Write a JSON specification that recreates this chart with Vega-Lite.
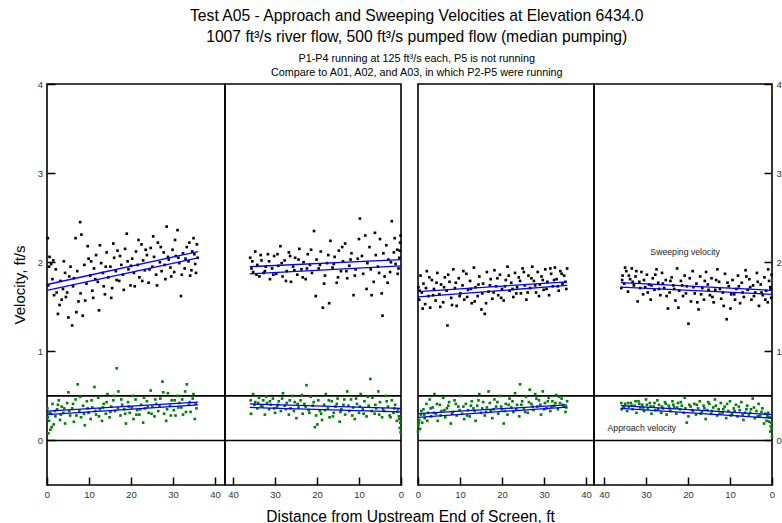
{
"$schema": "https://vega.github.io/schema/vega-lite/v6.json",
"padding": {"left": 11, "top": 7, "right": 0, "bottom": 0},
"background": "white",
"title": {
"text": ["Test A05 - Approach and Sweeping Velocities at Elevation 6434.0", "1007 ft³/s river flow, 500 ft³/s pumped flow (median pumping)"],
"subtitle": ["P1-P4 running at 125 ft³/s each, P5 is not running", "Compare to A01, A02, and A03, in which P2-P5 were running"],
"font": "Liberation Sans", "subtitleFont": "Liberation Sans",
"fontSize": 15.7, "lineHeight": 21, "fontWeight": "normal", "color": "black",
"subtitleFontSize": 10.8, "subtitleLineHeight": 14, "subtitleColor": "black", "subtitlePadding": 8,
"anchor": "middle", "frame": "bounds", "offset": -1, "dx": 20
},
"config": {
"font": "Liberation Sans",
"view": {"stroke": "black", "strokeWidth": 1.6},
"axis": {"labelFont": "Liberation Sans", "titleFont": "Liberation Sans", "labelColor": "#333", "titleColor": "black", "titleFontWeight": "normal", "tickColor": "black", "tickWidth": 1.5, "domain": false, "grid": false, "labelFlush": false}
},
"datasets": {
"pts": [
{"p":1,"s":"S","x":0.2,"v":2.27},{"p":1,"s":"S","x":0.3,"v":1.74},{"p":1,"s":"S","x":0.6,"v":2.06},{"p":1,"s":"S","x":1.0,"v":1.98},{"p":1,"s":"S","x":1.3,"v":1.81},{"p":1,"s":"S","x":1.7,"v":1.63},{"p":1,"s":"S","x":2.1,"v":1.92},{"p":1,"s":"S","x":2.6,"v":1.42},{"p":1,"s":"S","x":3.0,"v":1.52},{"p":1,"s":"S","x":3.2,"v":1.79},{"p":1,"s":"S","x":3.8,"v":1.70},{"p":1,"s":"S","x":4.3,"v":1.88},{"p":1,"s":"S","x":4.8,"v":1.66},{"p":1,"s":"S","x":5.1,"v":1.38},{"p":1,"s":"S","x":5.6,"v":1.95},{"p":1,"s":"S","x":6.0,"v":1.29},{"p":1,"s":"S","x":6.4,"v":1.82},{"p":1,"s":"S","x":7.0,"v":1.44},{"p":1,"s":"S","x":7.5,"v":1.56},{"p":1,"s":"S","x":7.9,"v":2.45},{"p":1,"s":"S","x":8.2,"v":2.31},{"p":1,"s":"S","x":8.5,"v":1.40},{"p":1,"s":"S","x":8.9,"v":1.97},{"p":1,"s":"S","x":9.4,"v":1.76},{"p":1,"s":"S","x":9.9,"v":2.04},{"p":1,"s":"S","x":10.3,"v":1.85},{"p":1,"s":"S","x":10.8,"v":1.68},{"p":1,"s":"S","x":11.2,"v":1.93},{"p":1,"s":"S","x":11.7,"v":2.08},{"p":1,"s":"S","x":12.1,"v":1.78},{"p":1,"s":"S","x":12.4,"v":1.46},{"p":1,"s":"S","x":12.9,"v":1.99},{"p":1,"s":"S","x":13.3,"v":1.88},{"p":1,"s":"S","x":13.8,"v":1.64},{"p":1,"s":"S","x":14.2,"v":2.11},{"p":1,"s":"S","x":14.6,"v":1.83},{"p":1,"s":"S","x":15.1,"v":1.95},{"p":1,"s":"S","x":15.5,"v":1.71},{"p":1,"s":"S","x":16.0,"v":2.05},{"p":1,"s":"S","x":16.4,"v":1.90},{"p":1,"s":"S","x":16.8,"v":2.13},{"p":1,"s":"S","x":17.2,"v":1.79},{"p":1,"s":"S","x":17.7,"v":1.97},{"p":1,"s":"S","x":18.1,"v":1.86},{"p":1,"s":"S","x":18.6,"v":2.15},{"p":1,"s":"S","x":19.0,"v":2.32},{"p":1,"s":"S","x":19.4,"v":1.92},{"p":1,"s":"S","x":19.9,"v":1.74},{"p":1,"s":"S","x":20.3,"v":2.04},{"p":1,"s":"S","x":20.7,"v":1.88},{"p":1,"s":"S","x":21.2,"v":2.12},{"p":1,"s":"S","x":21.6,"v":1.97},{"p":1,"s":"S","x":22.0,"v":1.83},{"p":1,"s":"S","x":22.5,"v":2.20},{"p":1,"s":"S","x":22.9,"v":2.02},{"p":1,"s":"S","x":23.3,"v":1.91},{"p":1,"s":"S","x":23.8,"v":2.08},{"p":1,"s":"S","x":24.2,"v":1.77},{"p":1,"s":"S","x":24.7,"v":2.16},{"p":1,"s":"S","x":25.1,"v":1.95},{"p":1,"s":"S","x":25.5,"v":2.06},{"p":1,"s":"S","x":26.0,"v":1.86},{"p":1,"s":"S","x":26.4,"v":2.22},{"p":1,"s":"S","x":26.9,"v":2.00},{"p":1,"s":"S","x":27.3,"v":1.90},{"p":1,"s":"S","x":27.8,"v":2.11},{"p":1,"s":"S","x":28.2,"v":1.81},{"p":1,"s":"S","x":28.5,"v":2.40},{"p":1,"s":"S","x":29.0,"v":2.03},{"p":1,"s":"S","x":29.4,"v":1.94},{"p":1,"s":"S","x":29.9,"v":2.14},{"p":1,"s":"S","x":30.3,"v":1.89},{"p":1,"s":"S","x":30.7,"v":2.07},{"p":1,"s":"S","x":31.1,"v":2.36},{"p":1,"s":"S","x":31.5,"v":1.99},{"p":1,"s":"S","x":31.9,"v":1.62},{"p":1,"s":"S","x":32.4,"v":2.10},{"p":1,"s":"S","x":32.8,"v":1.93},{"p":1,"s":"S","x":33.3,"v":2.17},{"p":1,"s":"S","x":33.7,"v":2.01},{"p":1,"s":"S","x":34.1,"v":1.85},{"p":1,"s":"S","x":34.6,"v":2.12},{"p":1,"s":"S","x":34.9,"v":2.27},{"p":1,"s":"S","x":35.3,"v":1.98},{"p":1,"s":"S","x":35.7,"v":2.20},{"p":1,"s":"S","x":35.9,"v":2.05},
{"p":1,"s":"S","x":0.5,"v":1.95},{"p":1,"s":"S","x":1.5,"v":2.02},{"p":1,"s":"S","x":2.3,"v":1.66},{"p":1,"s":"S","x":3.5,"v":1.58},{"p":1,"s":"S","x":4.0,"v":2.01},{"p":1,"s":"S","x":4.5,"v":1.61},{"p":1,"s":"S","x":5.3,"v":1.84},{"p":1,"s":"S","x":6.2,"v":1.73},{"p":1,"s":"S","x":6.8,"v":2.27},{"p":1,"s":"S","x":7.2,"v":1.90},{"p":1,"s":"S","x":8.0,"v":1.65},{"p":1,"s":"S","x":9.1,"v":1.57},{"p":1,"s":"S","x":9.7,"v":2.18},{"p":1,"s":"S","x":10.5,"v":2.01},{"p":1,"s":"S","x":11.0,"v":1.60},{"p":1,"s":"S","x":11.5,"v":1.81},{"p":1,"s":"S","x":12.6,"v":2.19},{"p":1,"s":"S","x":13.5,"v":1.73},{"p":1,"s":"S","x":14.0,"v":1.95},{"p":1,"s":"S","x":15.3,"v":1.60},{"p":1,"s":"S","x":15.8,"v":2.21},{"p":1,"s":"S","x":16.6,"v":1.80},{"p":1,"s":"S","x":17.4,"v":2.07},{"p":1,"s":"S","x":18.3,"v":1.69},{"p":1,"s":"S","x":19.2,"v":2.01},{"p":1,"s":"S","x":20.0,"v":1.96},{"p":1,"s":"S","x":20.9,"v":1.73},{"p":1,"s":"S","x":21.8,"v":2.25},{"p":1,"s":"S","x":22.7,"v":1.79},{"p":1,"s":"S","x":23.5,"v":2.14},{"p":1,"s":"S","x":24.4,"v":1.92},{"p":1,"s":"S","x":25.3,"v":2.29},{"p":1,"s":"S","x":26.2,"v":1.74},{"p":1,"s":"S","x":27.1,"v":2.17},{"p":1,"s":"S","x":28.0,"v":1.97},{"p":1,"s":"S","x":28.8,"v":2.06},{"p":1,"s":"S","x":29.6,"v":1.84},{"p":1,"s":"S","x":30.5,"v":2.25},{"p":1,"s":"S","x":31.3,"v":2.05},{"p":1,"s":"S","x":32.1,"v":1.86},{"p":1,"s":"S","x":33.0,"v":2.04},{"p":1,"s":"S","x":33.9,"v":2.22},{"p":1,"s":"S","x":34.4,"v":1.91},{"p":1,"s":"S","x":35.1,"v":2.09},{"p":1,"s":"S","x":35.5,"v":1.88},
{"p":1,"s":"A","x":0.1,"v":0.36},{"p":1,"s":"A","x":0.3,"v":0.08},{"p":1,"s":"A","x":0.5,"v":0.22},{"p":1,"s":"A","x":0.8,"v":0.12},{"p":1,"s":"A","x":1.0,"v":0.30},{"p":1,"s":"A","x":1.3,"v":0.41},{"p":1,"s":"A","x":1.6,"v":0.18},{"p":1,"s":"A","x":2.0,"v":0.27},{"p":1,"s":"A","x":2.4,"v":0.35},{"p":1,"s":"A","x":2.8,"v":0.45},{"p":1,"s":"A","x":3.1,"v":0.23},{"p":1,"s":"A","x":3.5,"v":0.38},{"p":1,"s":"A","x":3.9,"v":0.31},{"p":1,"s":"A","x":4.3,"v":0.19},{"p":1,"s":"A","x":4.8,"v":0.42},{"p":1,"s":"A","x":5.1,"v":0.54},{"p":1,"s":"A","x":5.5,"v":0.28},{"p":1,"s":"A","x":6.0,"v":0.36},{"p":1,"s":"A","x":6.4,"v":0.21},{"p":1,"s":"A","x":6.8,"v":0.46},{"p":1,"s":"A","x":7.3,"v":0.63},{"p":1,"s":"A","x":7.7,"v":0.33},{"p":1,"s":"A","x":8.1,"v":0.26},{"p":1,"s":"A","x":8.6,"v":0.39},{"p":1,"s":"A","x":9.0,"v":0.17},{"p":1,"s":"A","x":9.5,"v":0.44},{"p":1,"s":"A","x":9.9,"v":0.31},{"p":1,"s":"A","x":10.4,"v":0.24},{"p":1,"s":"A","x":10.8,"v":0.37},{"p":1,"s":"A","x":11.3,"v":0.60},{"p":1,"s":"A","x":11.7,"v":0.29},{"p":1,"s":"A","x":12.2,"v":0.48},{"p":1,"s":"A","x":12.6,"v":0.35},{"p":1,"s":"A","x":13.1,"v":0.22},{"p":1,"s":"A","x":13.5,"v":0.41},{"p":1,"s":"A","x":14.0,"v":0.30},{"p":1,"s":"A","x":14.4,"v":0.52},{"p":1,"s":"A","x":14.9,"v":0.26},{"p":1,"s":"A","x":15.3,"v":0.38},{"p":1,"s":"A","x":15.8,"v":0.45},{"p":1,"s":"A","x":16.2,"v":0.33},{"p":1,"s":"A","x":16.6,"v":0.81},{"p":1,"s":"A","x":17.0,"v":0.55},{"p":1,"s":"A","x":17.5,"v":0.28},{"p":1,"s":"A","x":17.9,"v":0.40},{"p":1,"s":"A","x":18.4,"v":0.35},{"p":1,"s":"A","x":18.8,"v":0.19},{"p":1,"s":"A","x":19.3,"v":0.43},{"p":1,"s":"A","x":19.7,"v":0.31},{"p":1,"s":"A","x":20.2,"v":0.37},{"p":1,"s":"A","x":20.6,"v":0.24},{"p":1,"s":"A","x":21.1,"v":0.46},{"p":1,"s":"A","x":21.5,"v":0.34},{"p":1,"s":"A","x":22.0,"v":0.29},{"p":1,"s":"A","x":22.4,"v":0.40},{"p":1,"s":"A","x":22.9,"v":0.20},{"p":1,"s":"A","x":23.3,"v":0.36},{"p":1,"s":"A","x":23.8,"v":0.44},{"p":1,"s":"A","x":24.2,"v":0.31},{"p":1,"s":"A","x":24.7,"v":0.56},{"p":1,"s":"A","x":25.1,"v":0.38},{"p":1,"s":"A","x":25.6,"v":0.27},{"p":1,"s":"A","x":26.0,"v":0.41},{"p":1,"s":"A","x":26.5,"v":0.33},{"p":1,"s":"A","x":27.0,"v":0.47},{"p":1,"s":"A","x":27.5,"v":0.66},{"p":1,"s":"A","x":27.9,"v":0.30},{"p":1,"s":"A","x":28.4,"v":0.22},{"p":1,"s":"A","x":28.8,"v":0.53},{"p":1,"s":"A","x":29.3,"v":0.39},{"p":1,"s":"A","x":29.7,"v":0.45},{"p":1,"s":"A","x":30.2,"v":0.34},{"p":1,"s":"A","x":30.6,"v":0.28},{"p":1,"s":"A","x":31.1,"v":0.50},{"p":1,"s":"A","x":31.5,"v":0.42},{"p":1,"s":"A","x":32.0,"v":0.37},{"p":1,"s":"A","x":32.4,"v":0.29},{"p":1,"s":"A","x":32.9,"v":0.55},{"p":1,"s":"A","x":33.3,"v":0.63},{"p":1,"s":"A","x":33.8,"v":0.40},{"p":1,"s":"A","x":34.2,"v":0.32},{"p":1,"s":"A","x":34.7,"v":0.47},{"p":1,"s":"A","x":35.2,"v":0.24},{"p":1,"s":"A","x":35.6,"v":0.36},
{"p":1,"s":"A","x":0.2,"v":0.26},{"p":1,"s":"A","x":0.6,"v":0.31},{"p":1,"s":"A","x":1.1,"v":0.15},{"p":1,"s":"A","x":1.9,"v":0.33},{"p":1,"s":"A","x":2.6,"v":0.40},{"p":1,"s":"A","x":3.3,"v":0.29},{"p":1,"s":"A","x":4.1,"v":0.36},{"p":1,"s":"A","x":5.3,"v":0.33},{"p":1,"s":"A","x":6.2,"v":0.41},{"p":1,"s":"A","x":7.0,"v":0.28},{"p":1,"s":"A","x":7.9,"v":0.49},{"p":1,"s":"A","x":8.8,"v":0.30},{"p":1,"s":"A","x":9.7,"v":0.36},{"p":1,"s":"A","x":10.6,"v":0.45},{"p":1,"s":"A","x":11.5,"v":0.33},{"p":1,"s":"A","x":12.4,"v":0.27},{"p":1,"s":"A","x":13.3,"v":0.37},{"p":1,"s":"A","x":14.2,"v":0.43},{"p":1,"s":"A","x":15.1,"v":0.32},{"p":1,"s":"A","x":16.0,"v":0.50},{"p":1,"s":"A","x":16.9,"v":0.36},{"p":1,"s":"A","x":17.7,"v":0.46},{"p":1,"s":"A","x":18.6,"v":0.30},{"p":1,"s":"A","x":19.5,"v":0.38},{"p":1,"s":"A","x":20.4,"v":0.50},{"p":1,"s":"A","x":21.3,"v":0.29},{"p":1,"s":"A","x":22.2,"v":0.35},{"p":1,"s":"A","x":23.1,"v":0.48},{"p":1,"s":"A","x":24.0,"v":0.38},{"p":1,"s":"A","x":24.9,"v":0.30},{"p":1,"s":"A","x":25.8,"v":0.46},{"p":1,"s":"A","x":26.8,"v":0.39},{"p":1,"s":"A","x":27.7,"v":0.54},{"p":1,"s":"A","x":28.6,"v":0.35},{"p":1,"s":"A","x":29.5,"v":0.28},{"p":1,"s":"A","x":30.4,"v":0.45},{"p":1,"s":"A","x":31.3,"v":0.37},{"p":1,"s":"A","x":32.2,"v":0.46},{"p":1,"s":"A","x":33.1,"v":0.32},{"p":1,"s":"A","x":34.0,"v":0.43},{"p":1,"s":"A","x":34.9,"v":0.52},{"p":1,"s":"A","x":35.4,"v":0.41},
{"p":2,"s":"S","x":0.1,"v":2.30},{"p":2,"s":"S","x":0.2,"v":2.22},{"p":2,"s":"S","x":0.4,"v":2.05},{"p":2,"s":"S","x":0.6,"v":1.93},{"p":2,"s":"S","x":0.9,"v":2.14},{"p":2,"s":"S","x":1.3,"v":1.98},{"p":2,"s":"S","x":1.7,"v":2.11},{"p":2,"s":"S","x":2.2,"v":2.46},{"p":2,"s":"S","x":2.6,"v":1.89},{"p":2,"s":"S","x":3.0,"v":2.03},{"p":2,"s":"S","x":3.5,"v":2.19},{"p":2,"s":"S","x":3.9,"v":1.84},{"p":2,"s":"S","x":4.4,"v":1.40},{"p":2,"s":"S","x":4.6,"v":1.65},{"p":2,"s":"S","x":5.0,"v":2.26},{"p":2,"s":"S","x":5.5,"v":1.95},{"p":2,"s":"S","x":6.0,"v":2.08},{"p":2,"s":"S","x":6.5,"v":1.78},{"p":2,"s":"S","x":7.0,"v":1.63},{"p":2,"s":"S","x":7.5,"v":2.17},{"p":2,"s":"S","x":8.0,"v":1.99},{"p":2,"s":"S","x":8.5,"v":2.30},{"p":2,"s":"S","x":9.0,"v":1.87},{"p":2,"s":"S","x":9.8,"v":2.49},{"p":2,"s":"S","x":10.3,"v":2.04},{"p":2,"s":"S","x":10.8,"v":1.92},{"p":2,"s":"S","x":11.3,"v":1.63},{"p":2,"s":"S","x":11.8,"v":2.10},{"p":2,"s":"S","x":12.3,"v":1.96},{"p":2,"s":"S","x":12.8,"v":1.82},{"p":2,"s":"S","x":13.3,"v":2.21},{"p":2,"s":"S","x":13.8,"v":2.01},{"p":2,"s":"S","x":14.3,"v":1.90},{"p":2,"s":"S","x":14.8,"v":2.13},{"p":2,"s":"S","x":15.3,"v":1.77},{"p":2,"s":"S","x":15.8,"v":2.06},{"p":2,"s":"S","x":16.3,"v":1.94},{"p":2,"s":"S","x":16.8,"v":2.24},{"p":2,"s":"S","x":17.1,"v":1.54},{"p":2,"s":"S","x":17.6,"v":1.99},{"p":2,"s":"S","x":18.1,"v":1.85},{"p":2,"s":"S","x":18.6,"v":1.49},{"p":2,"s":"S","x":19.1,"v":2.12},{"p":2,"s":"S","x":19.6,"v":1.93},{"p":2,"s":"S","x":20.1,"v":2.03},{"p":2,"s":"S","x":20.7,"v":2.35},{"p":2,"s":"S","x":21.2,"v":1.88},{"p":2,"s":"S","x":21.7,"v":1.97},{"p":2,"s":"S","x":22.2,"v":2.09},{"p":2,"s":"S","x":22.7,"v":1.81},{"p":2,"s":"S","x":23.2,"v":2.00},{"p":2,"s":"S","x":23.7,"v":1.92},{"p":2,"s":"S","x":24.2,"v":2.15},{"p":2,"s":"S","x":24.7,"v":1.86},{"p":2,"s":"S","x":25.2,"v":2.05},{"p":2,"s":"S","x":25.7,"v":1.95},{"p":2,"s":"S","x":26.2,"v":1.78},{"p":2,"s":"S","x":26.7,"v":2.11},{"p":2,"s":"S","x":27.2,"v":1.90},{"p":2,"s":"S","x":27.7,"v":2.02},{"p":2,"s":"S","x":28.2,"v":1.84},{"p":2,"s":"S","x":28.7,"v":2.18},{"p":2,"s":"S","x":29.2,"v":1.96},{"p":2,"s":"S","x":29.7,"v":1.87},{"p":2,"s":"S","x":30.2,"v":2.07},{"p":2,"s":"S","x":30.7,"v":1.93},{"p":2,"s":"S","x":31.2,"v":1.81},{"p":2,"s":"S","x":31.7,"v":2.09},{"p":2,"s":"S","x":32.2,"v":1.95},{"p":2,"s":"S","x":32.7,"v":1.88},{"p":2,"s":"S","x":33.2,"v":2.02},{"p":2,"s":"S","x":33.7,"v":1.84},{"p":2,"s":"S","x":34.2,"v":1.97},{"p":2,"s":"S","x":34.7,"v":2.12},{"p":2,"s":"S","x":35.2,"v":1.89},{"p":2,"s":"S","x":35.6,"v":1.93},{"p":2,"s":"S","x":35.9,"v":2.05},
{"p":2,"s":"S","x":0.3,"v":2.13},{"p":2,"s":"S","x":0.8,"v":1.87},{"p":2,"s":"S","x":1.5,"v":2.27},{"p":2,"s":"S","x":2.4,"v":2.00},{"p":2,"s":"S","x":3.2,"v":1.77},{"p":2,"s":"S","x":4.2,"v":2.10},{"p":2,"s":"S","x":5.2,"v":1.88},{"p":2,"s":"S","x":6.2,"v":2.33},{"p":2,"s":"S","x":7.2,"v":1.92},{"p":2,"s":"S","x":8.2,"v":1.70},{"p":2,"s":"S","x":9.3,"v":2.07},{"p":2,"s":"S","x":10.0,"v":2.26},{"p":2,"s":"S","x":11.0,"v":1.85},{"p":2,"s":"S","x":12.0,"v":2.03},{"p":2,"s":"S","x":13.0,"v":1.90},{"p":2,"s":"S","x":14.0,"v":2.17},{"p":2,"s":"S","x":15.0,"v":1.83},{"p":2,"s":"S","x":16.0,"v":1.98},{"p":2,"s":"S","x":17.3,"v":2.08},{"p":2,"s":"S","x":18.3,"v":1.76},{"p":2,"s":"S","x":19.3,"v":1.97},{"p":2,"s":"S","x":20.3,"v":1.62},{"p":2,"s":"S","x":21.4,"v":2.14},{"p":2,"s":"S","x":22.4,"v":1.93},{"p":2,"s":"S","x":23.4,"v":1.83},{"p":2,"s":"S","x":24.4,"v":2.03},{"p":2,"s":"S","x":25.4,"v":1.91},{"p":2,"s":"S","x":26.4,"v":2.07},{"p":2,"s":"S","x":27.4,"v":1.79},{"p":2,"s":"S","x":28.4,"v":1.99},{"p":2,"s":"S","x":29.4,"v":2.09},{"p":2,"s":"S","x":30.4,"v":1.86},{"p":2,"s":"S","x":31.4,"v":2.01},{"p":2,"s":"S","x":32.4,"v":1.90},{"p":2,"s":"S","x":33.4,"v":2.08},{"p":2,"s":"S","x":34.4,"v":1.86},{"p":2,"s":"S","x":35.4,"v":2.01},
{"p":2,"s":"A","x":0.1,"v":0.09},{"p":2,"s":"A","x":0.2,"v":0.20},{"p":2,"s":"A","x":0.3,"v":0.14},{"p":2,"s":"A","x":0.5,"v":0.27},{"p":2,"s":"A","x":0.7,"v":0.35},{"p":2,"s":"A","x":1.0,"v":0.22},{"p":2,"s":"A","x":1.4,"v":0.40},{"p":2,"s":"A","x":1.8,"v":0.31},{"p":2,"s":"A","x":2.2,"v":0.45},{"p":2,"s":"A","x":2.7,"v":0.28},{"p":2,"s":"A","x":3.1,"v":0.38},{"p":2,"s":"A","x":3.6,"v":0.50},{"p":2,"s":"A","x":4.0,"v":0.33},{"p":2,"s":"A","x":4.5,"v":0.26},{"p":2,"s":"A","x":5.0,"v":0.43},{"p":2,"s":"A","x":5.4,"v":0.55},{"p":2,"s":"A","x":5.9,"v":0.36},{"p":2,"s":"A","x":6.3,"v":0.30},{"p":2,"s":"A","x":6.8,"v":0.48},{"p":2,"s":"A","x":7.3,"v":0.69},{"p":2,"s":"A","x":7.7,"v":0.39},{"p":2,"s":"A","x":8.2,"v":0.27},{"p":2,"s":"A","x":8.7,"v":0.44},{"p":2,"s":"A","x":9.1,"v":0.35},{"p":2,"s":"A","x":9.6,"v":0.52},{"p":2,"s":"A","x":10.0,"v":0.31},{"p":2,"s":"A","x":10.5,"v":0.41},{"p":2,"s":"A","x":11.0,"v":0.24},{"p":2,"s":"A","x":11.4,"v":0.37},{"p":2,"s":"A","x":11.9,"v":0.46},{"p":2,"s":"A","x":12.3,"v":0.33},{"p":2,"s":"A","x":12.8,"v":0.55},{"p":2,"s":"A","x":13.3,"v":0.29},{"p":2,"s":"A","x":13.7,"v":0.40},{"p":2,"s":"A","x":14.2,"v":0.35},{"p":2,"s":"A","x":14.6,"v":0.21},{"p":2,"s":"A","x":15.1,"v":0.47},{"p":2,"s":"A","x":15.6,"v":0.38},{"p":2,"s":"A","x":16.0,"v":0.31},{"p":2,"s":"A","x":16.5,"v":0.44},{"p":2,"s":"A","x":17.0,"v":0.26},{"p":2,"s":"A","x":17.4,"v":0.36},{"p":2,"s":"A","x":17.9,"v":0.52},{"p":2,"s":"A","x":18.3,"v":0.40},{"p":2,"s":"A","x":18.8,"v":0.23},{"p":2,"s":"A","x":19.3,"v":0.33},{"p":2,"s":"A","x":19.7,"v":0.45},{"p":2,"s":"A","x":20.2,"v":0.28},{"p":2,"s":"A","x":20.5,"v":0.15},{"p":2,"s":"A","x":21.0,"v":0.39},{"p":2,"s":"A","x":21.5,"v":0.49},{"p":2,"s":"A","x":22.0,"v":0.34},{"p":2,"s":"A","x":22.5,"v":0.62},{"p":2,"s":"A","x":23.0,"v":0.41},{"p":2,"s":"A","x":23.4,"v":0.30},{"p":2,"s":"A","x":23.9,"v":0.45},{"p":2,"s":"A","x":24.4,"v":0.37},{"p":2,"s":"A","x":24.9,"v":0.25},{"p":2,"s":"A","x":25.3,"v":0.43},{"p":2,"s":"A","x":25.8,"v":0.50},{"p":2,"s":"A","x":26.3,"v":0.36},{"p":2,"s":"A","x":26.7,"v":0.29},{"p":2,"s":"A","x":27.2,"v":0.42},{"p":2,"s":"A","x":27.7,"v":0.39},{"p":2,"s":"A","x":28.1,"v":0.53},{"p":2,"s":"A","x":28.6,"v":0.33},{"p":2,"s":"A","x":29.1,"v":0.44},{"p":2,"s":"A","x":29.5,"v":0.38},{"p":2,"s":"A","x":30.0,"v":0.31},{"p":2,"s":"A","x":30.5,"v":0.47},{"p":2,"s":"A","x":31.0,"v":0.40},{"p":2,"s":"A","x":31.4,"v":0.35},{"p":2,"s":"A","x":31.9,"v":0.42},{"p":2,"s":"A","x":32.4,"v":0.29},{"p":2,"s":"A","x":32.8,"v":0.45},{"p":2,"s":"A","x":33.3,"v":0.39},{"p":2,"s":"A","x":33.8,"v":0.48},{"p":2,"s":"A","x":34.2,"v":0.36},{"p":2,"s":"A","x":34.7,"v":0.43},{"p":2,"s":"A","x":35.2,"v":0.52},{"p":2,"s":"A","x":35.7,"v":0.30},
{"p":2,"s":"A","x":0.4,"v":0.24},{"p":2,"s":"A","x":0.9,"v":0.32},{"p":2,"s":"A","x":1.6,"v":0.36},{"p":2,"s":"A","x":2.5,"v":0.26},{"p":2,"s":"A","x":3.4,"v":0.44},{"p":2,"s":"A","x":4.3,"v":0.35},{"p":2,"s":"A","x":5.2,"v":0.29},{"p":2,"s":"A","x":6.1,"v":0.40},{"p":2,"s":"A","x":7.0,"v":0.33},{"p":2,"s":"A","x":7.9,"v":0.49},{"p":2,"s":"A","x":8.9,"v":0.30},{"p":2,"s":"A","x":9.8,"v":0.38},{"p":2,"s":"A","x":10.7,"v":0.47},{"p":2,"s":"A","x":11.6,"v":0.28},{"p":2,"s":"A","x":12.5,"v":0.39},{"p":2,"s":"A","x":13.5,"v":0.46},{"p":2,"s":"A","x":14.4,"v":0.32},{"p":2,"s":"A","x":15.3,"v":0.41},{"p":2,"s":"A","x":16.2,"v":0.27},{"p":2,"s":"A","x":17.2,"v":0.45},{"p":2,"s":"A","x":18.1,"v":0.34},{"p":2,"s":"A","x":19.0,"v":0.30},{"p":2,"s":"A","x":19.9,"v":0.18},{"p":2,"s":"A","x":20.8,"v":0.43},{"p":2,"s":"A","x":21.8,"v":0.31},{"p":2,"s":"A","x":22.7,"v":0.38},{"p":2,"s":"A","x":23.6,"v":0.51},{"p":2,"s":"A","x":24.6,"v":0.41},{"p":2,"s":"A","x":25.5,"v":0.33},{"p":2,"s":"A","x":26.5,"v":0.45},{"p":2,"s":"A","x":27.4,"v":0.35},{"p":2,"s":"A","x":28.3,"v":0.47},{"p":2,"s":"A","x":29.3,"v":0.40},{"p":2,"s":"A","x":30.2,"v":0.36},{"p":2,"s":"A","x":31.2,"v":0.44},{"p":2,"s":"A","x":32.1,"v":0.49},{"p":2,"s":"A","x":33.0,"v":0.38},{"p":2,"s":"A","x":34.0,"v":0.42},{"p":2,"s":"A","x":34.9,"v":0.40},{"p":2,"s":"A","x":35.8,"v":0.45},
{"p":3,"s":"S","x":0.1,"v":1.72},{"p":3,"s":"S","x":0.3,"v":1.58},{"p":3,"s":"S","x":0.6,"v":1.85},{"p":3,"s":"S","x":0.9,"v":1.66},{"p":3,"s":"S","x":1.3,"v":1.76},{"p":3,"s":"S","x":1.7,"v":1.53},{"p":3,"s":"S","x":2.1,"v":1.90},{"p":3,"s":"S","x":2.5,"v":1.62},{"p":3,"s":"S","x":2.9,"v":1.49},{"p":3,"s":"S","x":3.3,"v":1.80},{"p":3,"s":"S","x":3.8,"v":1.70},{"p":3,"s":"S","x":4.2,"v":1.57},{"p":3,"s":"S","x":4.6,"v":1.88},{"p":3,"s":"S","x":5.1,"v":1.64},{"p":3,"s":"S","x":5.5,"v":1.75},{"p":3,"s":"S","x":6.0,"v":1.55},{"p":3,"s":"S","x":6.4,"v":1.83},{"p":3,"s":"S","x":6.8,"v":1.68},{"p":3,"s":"S","x":7.0,"v":1.29},{"p":3,"s":"S","x":7.5,"v":1.78},{"p":3,"s":"S","x":7.9,"v":1.60},{"p":3,"s":"S","x":8.4,"v":1.92},{"p":3,"s":"S","x":8.8,"v":1.71},{"p":3,"s":"S","x":9.2,"v":1.51},{"p":3,"s":"S","x":9.7,"v":1.82},{"p":3,"s":"S","x":10.1,"v":1.65},{"p":3,"s":"S","x":10.6,"v":1.74},{"p":3,"s":"S","x":11.0,"v":1.58},{"p":3,"s":"S","x":11.5,"v":1.87},{"p":3,"s":"S","x":11.9,"v":1.69},{"p":3,"s":"S","x":12.4,"v":1.79},{"p":3,"s":"S","x":12.8,"v":1.54},{"p":3,"s":"S","x":13.3,"v":1.94},{"p":3,"s":"S","x":13.7,"v":1.72},{"p":3,"s":"S","x":14.2,"v":1.62},{"p":3,"s":"S","x":14.6,"v":1.84},{"p":3,"s":"S","x":15.1,"v":1.47},{"p":3,"s":"S","x":15.5,"v":1.76},{"p":3,"s":"S","x":15.9,"v":1.42},{"p":3,"s":"S","x":16.4,"v":1.89},{"p":3,"s":"S","x":16.8,"v":1.67},{"p":3,"s":"S","x":17.3,"v":1.81},{"p":3,"s":"S","x":17.7,"v":1.59},{"p":3,"s":"S","x":18.2,"v":1.91},{"p":3,"s":"S","x":18.6,"v":1.73},{"p":3,"s":"S","x":19.1,"v":1.63},{"p":3,"s":"S","x":19.5,"v":1.86},{"p":3,"s":"S","x":20.0,"v":1.70},{"p":3,"s":"S","x":20.4,"v":1.57},{"p":3,"s":"S","x":20.9,"v":1.80},{"p":3,"s":"S","x":21.3,"v":1.95},{"p":3,"s":"S","x":21.8,"v":1.68},{"p":3,"s":"S","x":22.2,"v":1.77},{"p":3,"s":"S","x":22.7,"v":1.61},{"p":3,"s":"S","x":23.1,"v":1.88},{"p":3,"s":"S","x":23.6,"v":1.72},{"p":3,"s":"S","x":24.0,"v":1.83},{"p":3,"s":"S","x":24.5,"v":1.65},{"p":3,"s":"S","x":24.9,"v":1.93},{"p":3,"s":"S","x":25.4,"v":1.74},{"p":3,"s":"S","x":25.8,"v":1.58},{"p":3,"s":"S","x":26.3,"v":1.85},{"p":3,"s":"S","x":26.7,"v":1.71},{"p":3,"s":"S","x":27.2,"v":1.95},{"p":3,"s":"S","x":27.6,"v":1.79},{"p":3,"s":"S","x":28.1,"v":1.66},{"p":3,"s":"S","x":28.5,"v":1.89},{"p":3,"s":"S","x":29.0,"v":1.75},{"p":3,"s":"S","x":29.4,"v":1.84},{"p":3,"s":"S","x":29.9,"v":1.69},{"p":3,"s":"S","x":30.3,"v":1.92},{"p":3,"s":"S","x":30.8,"v":1.78},{"p":3,"s":"S","x":31.2,"v":1.63},{"p":3,"s":"S","x":31.7,"v":1.87},{"p":3,"s":"S","x":32.1,"v":1.73},{"p":3,"s":"S","x":32.6,"v":1.94},{"p":3,"s":"S","x":33.0,"v":1.81},{"p":3,"s":"S","x":33.5,"v":1.68},{"p":3,"s":"S","x":33.9,"v":1.90},{"p":3,"s":"S","x":34.4,"v":1.76},{"p":3,"s":"S","x":34.8,"v":1.85},{"p":3,"s":"S","x":35.3,"v":1.70},{"p":3,"s":"S","x":35.5,"v":1.93},
{"p":3,"s":"S","x":0.4,"v":1.68},{"p":3,"s":"S","x":1.1,"v":1.48},{"p":3,"s":"S","x":1.9,"v":1.71},{"p":3,"s":"S","x":2.7,"v":1.83},{"p":3,"s":"S","x":3.6,"v":1.63},{"p":3,"s":"S","x":4.4,"v":1.77},{"p":3,"s":"S","x":5.3,"v":1.50},{"p":3,"s":"S","x":6.2,"v":1.72},{"p":3,"s":"S","x":7.2,"v":1.86},{"p":3,"s":"S","x":8.1,"v":1.52},{"p":3,"s":"S","x":9.0,"v":1.77},{"p":3,"s":"S","x":9.9,"v":1.62},{"p":3,"s":"S","x":10.8,"v":1.90},{"p":3,"s":"S","x":11.7,"v":1.61},{"p":3,"s":"S","x":12.6,"v":1.70},{"p":3,"s":"S","x":13.5,"v":1.56},{"p":3,"s":"S","x":14.4,"v":1.75},{"p":3,"s":"S","x":15.3,"v":1.65},{"p":3,"s":"S","x":16.2,"v":1.54},{"p":3,"s":"S","x":17.1,"v":1.74},{"p":3,"s":"S","x":18.0,"v":1.66},{"p":3,"s":"S","x":18.9,"v":1.82},{"p":3,"s":"S","x":19.8,"v":1.60},{"p":3,"s":"S","x":20.7,"v":1.73},{"p":3,"s":"S","x":21.6,"v":1.85},{"p":3,"s":"S","x":22.5,"v":1.70},{"p":3,"s":"S","x":23.4,"v":1.65},{"p":3,"s":"S","x":24.3,"v":1.79},{"p":3,"s":"S","x":25.2,"v":1.89},{"p":3,"s":"S","x":26.1,"v":1.66},{"p":3,"s":"S","x":27.0,"v":1.82},{"p":3,"s":"S","x":27.9,"v":1.74},{"p":3,"s":"S","x":28.8,"v":1.62},{"p":3,"s":"S","x":29.7,"v":1.80},{"p":3,"s":"S","x":30.6,"v":1.70},{"p":3,"s":"S","x":31.5,"v":1.93},{"p":3,"s":"S","x":32.4,"v":1.80},{"p":3,"s":"S","x":33.3,"v":1.73},{"p":3,"s":"S","x":34.2,"v":1.87},{"p":3,"s":"S","x":35.1,"v":1.78},
{"p":3,"s":"A","x":0.0,"v":0.10},{"p":3,"s":"A","x":0.1,"v":0.17},{"p":3,"s":"A","x":0.3,"v":0.23},{"p":3,"s":"A","x":0.5,"v":0.13},{"p":3,"s":"A","x":0.7,"v":0.29},{"p":3,"s":"A","x":1.0,"v":0.20},{"p":3,"s":"A","x":1.3,"v":0.35},{"p":3,"s":"A","x":1.6,"v":0.25},{"p":3,"s":"A","x":2.0,"v":0.41},{"p":3,"s":"A","x":2.4,"v":0.31},{"p":3,"s":"A","x":2.8,"v":0.46},{"p":3,"s":"A","x":3.1,"v":0.27},{"p":3,"s":"A","x":3.5,"v":0.37},{"p":3,"s":"A","x":3.9,"v":0.52},{"p":3,"s":"A","x":4.3,"v":0.30},{"p":3,"s":"A","x":4.7,"v":0.22},{"p":3,"s":"A","x":5.2,"v":0.40},{"p":3,"s":"A","x":5.6,"v":0.33},{"p":3,"s":"A","x":6.0,"v":0.48},{"p":3,"s":"A","x":6.5,"v":0.26},{"p":3,"s":"A","x":6.9,"v":0.36},{"p":3,"s":"A","x":7.4,"v":0.43},{"p":3,"s":"A","x":7.8,"v":0.19},{"p":3,"s":"A","x":8.3,"v":0.32},{"p":3,"s":"A","x":8.7,"v":0.45},{"p":3,"s":"A","x":9.2,"v":0.28},{"p":3,"s":"A","x":9.6,"v":0.38},{"p":3,"s":"A","x":10.1,"v":0.50},{"p":3,"s":"A","x":10.5,"v":0.30},{"p":3,"s":"A","x":11.0,"v":0.24},{"p":3,"s":"A","x":11.4,"v":0.41},{"p":3,"s":"A","x":11.9,"v":0.34},{"p":3,"s":"A","x":12.3,"v":0.27},{"p":3,"s":"A","x":12.8,"v":0.44},{"p":3,"s":"A","x":13.2,"v":0.36},{"p":3,"s":"A","x":13.7,"v":0.22},{"p":3,"s":"A","x":14.1,"v":0.39},{"p":3,"s":"A","x":14.6,"v":0.52},{"p":3,"s":"A","x":15.0,"v":0.31},{"p":3,"s":"A","x":15.5,"v":0.43},{"p":3,"s":"A","x":15.9,"v":0.28},{"p":3,"s":"A","x":16.4,"v":0.37},{"p":3,"s":"A","x":16.8,"v":0.55},{"p":3,"s":"A","x":17.3,"v":0.33},{"p":3,"s":"A","x":17.7,"v":0.25},{"p":3,"s":"A","x":18.2,"v":0.46},{"p":3,"s":"A","x":18.6,"v":0.38},{"p":3,"s":"A","x":19.1,"v":0.30},{"p":3,"s":"A","x":19.5,"v":0.50},{"p":3,"s":"A","x":20.0,"v":0.35},{"p":3,"s":"A","x":20.4,"v":0.19},{"p":3,"s":"A","x":20.9,"v":0.41},{"p":3,"s":"A","x":21.3,"v":0.29},{"p":3,"s":"A","x":21.8,"v":0.47},{"p":3,"s":"A","x":22.2,"v":0.37},{"p":3,"s":"A","x":22.7,"v":0.32},{"p":3,"s":"A","x":23.1,"v":0.53},{"p":3,"s":"A","x":23.6,"v":0.40},{"p":3,"s":"A","x":24.1,"v":0.27},{"p":3,"s":"A","x":24.3,"v":0.63},{"p":3,"s":"A","x":24.8,"v":0.44},{"p":3,"s":"A","x":25.2,"v":0.36},{"p":3,"s":"A","x":25.7,"v":0.49},{"p":3,"s":"A","x":26.1,"v":0.31},{"p":3,"s":"A","x":26.6,"v":0.57},{"p":3,"s":"A","x":27.0,"v":0.41},{"p":3,"s":"A","x":27.5,"v":0.34},{"p":3,"s":"A","x":27.9,"v":0.52},{"p":3,"s":"A","x":28.4,"v":0.38},{"p":3,"s":"A","x":28.8,"v":0.45},{"p":3,"s":"A","x":29.3,"v":0.29},{"p":3,"s":"A","x":29.7,"v":0.55},{"p":3,"s":"A","x":30.2,"v":0.42},{"p":3,"s":"A","x":30.6,"v":0.36},{"p":3,"s":"A","x":31.1,"v":0.48},{"p":3,"s":"A","x":31.5,"v":0.33},{"p":3,"s":"A","x":32.0,"v":0.44},{"p":3,"s":"A","x":32.4,"v":0.39},{"p":3,"s":"A","x":32.9,"v":0.51},{"p":3,"s":"A","x":33.3,"v":0.35},{"p":3,"s":"A","x":33.8,"v":0.42},{"p":3,"s":"A","x":34.2,"v":0.47},{"p":3,"s":"A","x":34.7,"v":0.38},{"p":3,"s":"A","x":35.1,"v":0.32},{"p":3,"s":"A","x":35.5,"v":0.44},
{"p":3,"s":"A","x":0.2,"v":0.20},{"p":3,"s":"A","x":0.8,"v":0.33},{"p":3,"s":"A","x":1.5,"v":0.29},{"p":3,"s":"A","x":2.2,"v":0.22},{"p":3,"s":"A","x":3.0,"v":0.36},{"p":3,"s":"A","x":3.8,"v":0.31},{"p":3,"s":"A","x":4.5,"v":0.41},{"p":3,"s":"A","x":5.4,"v":0.28},{"p":3,"s":"A","x":6.3,"v":0.34},{"p":3,"s":"A","x":7.2,"v":0.39},{"p":3,"s":"A","x":8.1,"v":0.30},{"p":3,"s":"A","x":9.0,"v":0.41},{"p":3,"s":"A","x":9.9,"v":0.34},{"p":3,"s":"A","x":10.8,"v":0.38},{"p":3,"s":"A","x":11.7,"v":0.28},{"p":3,"s":"A","x":12.6,"v":0.39},{"p":3,"s":"A","x":13.5,"v":0.33},{"p":3,"s":"A","x":14.4,"v":0.45},{"p":3,"s":"A","x":15.3,"v":0.36},{"p":3,"s":"A","x":16.2,"v":0.32},{"p":3,"s":"A","x":17.1,"v":0.42},{"p":3,"s":"A","x":18.0,"v":0.35},{"p":3,"s":"A","x":18.9,"v":0.43},{"p":3,"s":"A","x":19.8,"v":0.38},{"p":3,"s":"A","x":20.7,"v":0.33},{"p":3,"s":"A","x":21.6,"v":0.40},{"p":3,"s":"A","x":22.5,"v":0.44},{"p":3,"s":"A","x":23.4,"v":0.35},{"p":3,"s":"A","x":24.6,"v":0.40},{"p":3,"s":"A","x":25.5,"v":0.32},{"p":3,"s":"A","x":26.4,"v":0.43},{"p":3,"s":"A","x":27.3,"v":0.38},{"p":3,"s":"A","x":28.2,"v":0.47},{"p":3,"s":"A","x":29.1,"v":0.40},{"p":3,"s":"A","x":30.0,"v":0.35},{"p":3,"s":"A","x":30.9,"v":0.44},{"p":3,"s":"A","x":31.8,"v":0.38},{"p":3,"s":"A","x":32.7,"v":0.42},{"p":3,"s":"A","x":33.6,"v":0.49},{"p":3,"s":"A","x":34.5,"v":0.40},{"p":3,"s":"A","x":35.3,"v":0.37},
{"p":4,"s":"S","x":0.1,"v":1.86},{"p":4,"s":"S","x":0.2,"v":1.60},{"p":4,"s":"S","x":0.4,"v":1.72},{"p":4,"s":"S","x":0.7,"v":1.79},{"p":4,"s":"S","x":1.0,"v":1.55},{"p":4,"s":"S","x":1.4,"v":1.68},{"p":4,"s":"S","x":1.8,"v":1.83},{"p":4,"s":"S","x":2.2,"v":1.63},{"p":4,"s":"S","x":2.7,"v":1.75},{"p":4,"s":"S","x":3.1,"v":1.51},{"p":4,"s":"S","x":3.6,"v":1.88},{"p":4,"s":"S","x":4.0,"v":1.66},{"p":4,"s":"S","x":4.5,"v":1.74},{"p":4,"s":"S","x":4.9,"v":1.58},{"p":4,"s":"S","x":5.4,"v":1.81},{"p":4,"s":"S","x":5.8,"v":1.69},{"p":4,"s":"S","x":6.3,"v":1.91},{"p":4,"s":"S","x":6.7,"v":1.61},{"p":4,"s":"S","x":7.2,"v":1.77},{"p":4,"s":"S","x":7.6,"v":1.54},{"p":4,"s":"S","x":8.1,"v":1.85},{"p":4,"s":"S","x":8.5,"v":1.70},{"p":4,"s":"S","x":9.0,"v":1.64},{"p":4,"s":"S","x":9.4,"v":1.80},{"p":4,"s":"S","x":9.9,"v":1.48},{"p":4,"s":"S","x":10.3,"v":1.73},{"p":4,"s":"S","x":10.8,"v":1.36},{"p":4,"s":"S","x":11.2,"v":1.87},{"p":4,"s":"S","x":11.7,"v":1.66},{"p":4,"s":"S","x":12.1,"v":1.59},{"p":4,"s":"S","x":12.6,"v":1.78},{"p":4,"s":"S","x":13.0,"v":1.92},{"p":4,"s":"S","x":13.5,"v":1.69},{"p":4,"s":"S","x":13.9,"v":1.55},{"p":4,"s":"S","x":14.4,"v":1.82},{"p":4,"s":"S","x":14.8,"v":1.63},{"p":4,"s":"S","x":15.3,"v":1.75},{"p":4,"s":"S","x":15.7,"v":1.89},{"p":4,"s":"S","x":16.2,"v":1.58},{"p":4,"s":"S","x":16.6,"v":1.71},{"p":4,"s":"S","x":17.1,"v":1.84},{"p":4,"s":"S","x":17.5,"v":1.47},{"p":4,"s":"S","x":18.0,"v":1.76},{"p":4,"s":"S","x":18.4,"v":1.65},{"p":4,"s":"S","x":18.9,"v":1.90},{"p":4,"s":"S","x":19.3,"v":1.56},{"p":4,"s":"S","x":19.9,"v":1.31},{"p":4,"s":"S","x":20.3,"v":1.73},{"p":4,"s":"S","x":20.8,"v":1.85},{"p":4,"s":"S","x":21.2,"v":1.62},{"p":4,"s":"S","x":21.7,"v":1.79},{"p":4,"s":"S","x":22.1,"v":1.68},{"p":4,"s":"S","x":22.6,"v":1.93},{"p":4,"s":"S","x":23.0,"v":1.57},{"p":4,"s":"S","x":23.5,"v":1.74},{"p":4,"s":"S","x":23.9,"v":1.83},{"p":4,"s":"S","x":24.4,"v":1.66},{"p":4,"s":"S","x":24.8,"v":1.48},{"p":4,"s":"S","x":25.3,"v":1.80},{"p":4,"s":"S","x":25.7,"v":1.71},{"p":4,"s":"S","x":26.2,"v":1.88},{"p":4,"s":"S","x":26.6,"v":1.63},{"p":4,"s":"S","x":27.1,"v":1.77},{"p":4,"s":"S","x":27.5,"v":1.92},{"p":4,"s":"S","x":28.0,"v":1.69},{"p":4,"s":"S","x":28.4,"v":1.82},{"p":4,"s":"S","x":28.9,"v":1.58},{"p":4,"s":"S","x":29.3,"v":1.75},{"p":4,"s":"S","x":29.8,"v":1.86},{"p":4,"s":"S","x":30.2,"v":1.72},{"p":4,"s":"S","x":30.7,"v":1.64},{"p":4,"s":"S","x":31.1,"v":1.89},{"p":4,"s":"S","x":31.6,"v":1.78},{"p":4,"s":"S","x":32.0,"v":1.56},{"p":4,"s":"S","x":32.5,"v":1.84},{"p":4,"s":"S","x":32.9,"v":1.74},{"p":4,"s":"S","x":33.4,"v":1.93},{"p":4,"s":"S","x":33.8,"v":1.81},{"p":4,"s":"S","x":34.3,"v":1.67},{"p":4,"s":"S","x":34.7,"v":1.90},{"p":4,"s":"S","x":35.2,"v":1.76},{"p":4,"s":"S","x":35.6,"v":1.85},{"p":4,"s":"S","x":35.9,"v":1.71},
{"p":4,"s":"S","x":0.3,"v":1.70},{"p":4,"s":"S","x":0.9,"v":1.92},{"p":4,"s":"S","x":1.6,"v":1.58},{"p":4,"s":"S","x":2.5,"v":1.66},{"p":4,"s":"S","x":3.4,"v":1.78},{"p":4,"s":"S","x":4.3,"v":1.62},{"p":4,"s":"S","x":5.2,"v":1.72},{"p":4,"s":"S","x":6.1,"v":1.84},{"p":4,"s":"S","x":7.0,"v":1.66},{"p":4,"s":"S","x":7.9,"v":1.73},{"p":4,"s":"S","x":8.8,"v":1.58},{"p":4,"s":"S","x":9.7,"v":1.64},{"p":4,"s":"S","x":10.6,"v":1.77},{"p":4,"s":"S","x":11.5,"v":1.51},{"p":4,"s":"S","x":12.4,"v":1.70},{"p":4,"s":"S","x":13.3,"v":1.80},{"p":4,"s":"S","x":14.2,"v":1.61},{"p":4,"s":"S","x":15.1,"v":1.69},{"p":4,"s":"S","x":16.0,"v":1.79},{"p":4,"s":"S","x":16.9,"v":1.64},{"p":4,"s":"S","x":17.8,"v":1.55},{"p":4,"s":"S","x":18.7,"v":1.72},{"p":4,"s":"S","x":19.6,"v":1.82},{"p":4,"s":"S","x":20.5,"v":1.65},{"p":4,"s":"S","x":21.4,"v":1.74},{"p":4,"s":"S","x":22.3,"v":1.49},{"p":4,"s":"S","x":23.3,"v":1.70},{"p":4,"s":"S","x":24.2,"v":1.79},{"p":4,"s":"S","x":25.1,"v":1.62},{"p":4,"s":"S","x":26.0,"v":1.76},{"p":4,"s":"S","x":26.9,"v":1.70},{"p":4,"s":"S","x":27.8,"v":1.86},{"p":4,"s":"S","x":28.7,"v":1.74},{"p":4,"s":"S","x":29.6,"v":1.66},{"p":4,"s":"S","x":30.5,"v":1.80},{"p":4,"s":"S","x":31.4,"v":1.71},{"p":4,"s":"S","x":32.3,"v":1.90},{"p":4,"s":"S","x":33.2,"v":1.78},{"p":4,"s":"S","x":34.1,"v":1.85},{"p":4,"s":"S","x":35.0,"v":1.94},{"p":4,"s":"S","x":35.7,"v":1.80},
{"p":4,"s":"A","x":0.0,"v":0.04},{"p":4,"s":"A","x":0.1,"v":0.13},{"p":4,"s":"A","x":0.2,"v":0.20},{"p":4,"s":"A","x":0.4,"v":0.10},{"p":4,"s":"A","x":0.6,"v":0.26},{"p":4,"s":"A","x":0.9,"v":0.31},{"p":4,"s":"A","x":1.3,"v":0.22},{"p":4,"s":"A","x":1.9,"v":0.19},{"p":4,"s":"A","x":2.3,"v":0.36},{"p":4,"s":"A","x":2.8,"v":0.28},{"p":4,"s":"A","x":3.2,"v":0.41},{"p":4,"s":"A","x":3.7,"v":0.33},{"p":4,"s":"A","x":4.1,"v":0.25},{"p":4,"s":"A","x":4.6,"v":0.47},{"p":4,"s":"A","x":5.0,"v":0.35},{"p":4,"s":"A","x":5.5,"v":0.29},{"p":4,"s":"A","x":5.9,"v":0.39},{"p":4,"s":"A","x":6.4,"v":0.31},{"p":4,"s":"A","x":6.8,"v":0.23},{"p":4,"s":"A","x":7.3,"v":0.43},{"p":4,"s":"A","x":7.7,"v":0.34},{"p":4,"s":"A","x":8.2,"v":0.27},{"p":4,"s":"A","x":8.6,"v":0.40},{"p":4,"s":"A","x":9.1,"v":0.36},{"p":4,"s":"A","x":9.5,"v":0.30},{"p":4,"s":"A","x":10.0,"v":0.44},{"p":4,"s":"A","x":10.4,"v":0.33},{"p":4,"s":"A","x":10.9,"v":0.25},{"p":4,"s":"A","x":11.3,"v":0.38},{"p":4,"s":"A","x":11.8,"v":0.31},{"p":4,"s":"A","x":12.2,"v":0.42},{"p":4,"s":"A","x":12.7,"v":0.35},{"p":4,"s":"A","x":13.1,"v":0.28},{"p":4,"s":"A","x":13.6,"v":0.46},{"p":4,"s":"A","x":14.0,"v":0.37},{"p":4,"s":"A","x":14.5,"v":0.30},{"p":4,"s":"A","x":14.9,"v":0.41},{"p":4,"s":"A","x":15.4,"v":0.34},{"p":4,"s":"A","x":15.8,"v":0.24},{"p":4,"s":"A","x":16.3,"v":0.39},{"p":4,"s":"A","x":16.7,"v":0.32},{"p":4,"s":"A","x":17.2,"v":0.44},{"p":4,"s":"A","x":17.6,"v":0.36},{"p":4,"s":"A","x":18.1,"v":0.29},{"p":4,"s":"A","x":18.5,"v":0.41},{"p":4,"s":"A","x":19.0,"v":0.34},{"p":4,"s":"A","x":19.4,"v":0.38},{"p":4,"s":"A","x":19.9,"v":0.27},{"p":4,"s":"A","x":20.3,"v":0.20},{"p":4,"s":"A","x":20.8,"v":0.48},{"p":4,"s":"A","x":21.0,"v":0.31},{"p":4,"s":"A","x":21.5,"v":0.39},{"p":4,"s":"A","x":21.9,"v":0.35},{"p":4,"s":"A","x":22.4,"v":0.42},{"p":4,"s":"A","x":22.8,"v":0.30},{"p":4,"s":"A","x":23.3,"v":0.37},{"p":4,"s":"A","x":23.7,"v":0.44},{"p":4,"s":"A","x":24.2,"v":0.33},{"p":4,"s":"A","x":24.6,"v":0.39},{"p":4,"s":"A","x":25.1,"v":0.29},{"p":4,"s":"A","x":25.5,"v":0.43},{"p":4,"s":"A","x":26.0,"v":0.36},{"p":4,"s":"A","x":26.4,"v":0.31},{"p":4,"s":"A","x":26.9,"v":0.40},{"p":4,"s":"A","x":27.3,"v":0.45},{"p":4,"s":"A","x":27.8,"v":0.34},{"p":4,"s":"A","x":28.2,"v":0.38},{"p":4,"s":"A","x":28.7,"v":0.30},{"p":4,"s":"A","x":29.1,"v":0.42},{"p":4,"s":"A","x":29.6,"v":0.36},{"p":4,"s":"A","x":30.0,"v":0.46},{"p":4,"s":"A","x":30.5,"v":0.33},{"p":4,"s":"A","x":30.9,"v":0.40},{"p":4,"s":"A","x":31.4,"v":0.37},{"p":4,"s":"A","x":31.8,"v":0.44},{"p":4,"s":"A","x":32.3,"v":0.31},{"p":4,"s":"A","x":32.7,"v":0.39},{"p":4,"s":"A","x":33.2,"v":0.35},{"p":4,"s":"A","x":33.6,"v":0.42},{"p":4,"s":"A","x":34.1,"v":0.38},{"p":4,"s":"A","x":34.5,"v":0.33},{"p":4,"s":"A","x":35.0,"v":0.41},{"p":4,"s":"A","x":35.4,"v":0.37},{"p":4,"s":"A","x":35.8,"v":0.35},
{"p":4,"s":"A","x":0.3,"v":0.16},{"p":4,"s":"A","x":0.7,"v":0.21},{"p":4,"s":"A","x":1.1,"v":0.27},{"p":4,"s":"A","x":1.6,"v":0.30},{"p":4,"s":"A","x":2.5,"v":0.32},{"p":4,"s":"A","x":3.4,"v":0.27},{"p":4,"s":"A","x":4.3,"v":0.37},{"p":4,"s":"A","x":5.2,"v":0.31},{"p":4,"s":"A","x":6.1,"v":0.35},{"p":4,"s":"A","x":7.0,"v":0.29},{"p":4,"s":"A","x":7.9,"v":0.38},{"p":4,"s":"A","x":8.9,"v":0.33},{"p":4,"s":"A","x":9.8,"v":0.28},{"p":4,"s":"A","x":10.7,"v":0.41},{"p":4,"s":"A","x":11.6,"v":0.35},{"p":4,"s":"A","x":12.5,"v":0.30},{"p":4,"s":"A","x":13.4,"v":0.39},{"p":4,"s":"A","x":14.3,"v":0.33},{"p":4,"s":"A","x":15.2,"v":0.43},{"p":4,"s":"A","x":16.1,"v":0.36},{"p":4,"s":"A","x":17.0,"v":0.30},{"p":4,"s":"A","x":17.9,"v":0.40},{"p":4,"s":"A","x":18.8,"v":0.33},{"p":4,"s":"A","x":19.7,"v":0.40},{"p":4,"s":"A","x":20.6,"v":0.36},{"p":4,"s":"A","x":21.7,"v":0.43},{"p":4,"s":"A","x":22.6,"v":0.37},{"p":4,"s":"A","x":23.5,"v":0.40},{"p":4,"s":"A","x":24.4,"v":0.36},{"p":4,"s":"A","x":25.3,"v":0.41},{"p":4,"s":"A","x":26.2,"v":0.38},{"p":4,"s":"A","x":27.1,"v":0.35},{"p":4,"s":"A","x":28.0,"v":0.42},{"p":4,"s":"A","x":28.9,"v":0.38},{"p":4,"s":"A","x":29.8,"v":0.40},{"p":4,"s":"A","x":30.7,"v":0.37},{"p":4,"s":"A","x":31.6,"v":0.41},{"p":4,"s":"A","x":32.5,"v":0.44},{"p":4,"s":"A","x":33.4,"v":0.39},{"p":4,"s":"A","x":34.3,"v":0.42},{"p":4,"s":"A","x":35.2,"v":0.38},{"p":4,"s":"A","x":35.9,"v":0.42}
],
"fit": [
{"p":1,"g":"Su","x":0,"v":1.75},{"p":1,"g":"Su","x":36,"v":2.12},{"p":1,"g":"Sl","x":0,"v":1.685},{"p":1,"g":"Sl","x":36,"v":2.05},{"p":1,"g":"Au","x":0,"v":0.33},{"p":1,"g":"Au","x":36,"v":0.43},{"p":1,"g":"Al","x":0,"v":0.29},{"p":1,"g":"Al","x":36,"v":0.40},
{"p":2,"g":"Su","x":36,"v":1.95},{"p":2,"g":"Su","x":0,"v":2.03},{"p":2,"g":"Sl","x":36,"v":1.87},{"p":2,"g":"Sl","x":0,"v":1.96},{"p":2,"g":"Au","x":36,"v":0.41},{"p":2,"g":"Au","x":0,"v":0.36},{"p":2,"g":"Al","x":36,"v":0.37},{"p":2,"g":"Al","x":0,"v":0.32},
{"p":3,"g":"Su","x":0,"v":1.67},{"p":3,"g":"Su","x":35.5,"v":1.78},{"p":3,"g":"Sl","x":0,"v":1.61},{"p":3,"g":"Sl","x":35.5,"v":1.74},{"p":3,"g":"Au","x":0,"v":0.30},{"p":3,"g":"Au","x":35.5,"v":0.40},{"p":3,"g":"Al","x":0,"v":0.26},{"p":3,"g":"Al","x":35.5,"v":0.375},
{"p":4,"g":"Su","x":36,"v":1.77},{"p":4,"g":"Su","x":0,"v":1.685},{"p":4,"g":"Sl","x":36,"v":1.72},{"p":4,"g":"Sl","x":0,"v":1.64},{"p":4,"g":"Au","x":36,"v":0.39},{"p":4,"g":"Au","x":0,"v":0.29},{"p":4,"g":"Al","x":36,"v":0.36},{"p":4,"g":"Al","x":0,"v":0.25}
],
"ann": [
{"p":4,"x":20.7,"v":2.12,"t":"Sweeping velocity"},
{"p":4,"x":31.0,"v":0.145,"t":"Approach velocity"}
],
"refs": [{"v":0},{"v":0.5}]
},
"spacing": 0,
"bounds": "flush",
"hconcat": [
{"width": 178, "height": 401,
"encoding": {"y": {"field": "v", "type": "quantitative", "scale": {"domain": [-0.5, 4], "nice": false, "zero": false},
"axis": {"orient": "left", "values": [0,1,2,3,4], "title": "Velocity, ft/s", "titleFontSize": 15, "titlePadding": 10, "tickSize": -8, "labelPadding": 12.5, "labelFontSize": 9.5}}},
"layer": [
{"data": {"name": "refs"}, "mark": {"type": "rule", "color": "black", "strokeWidth": 1.6}},
{"data": {"name": "pts"}, "transform": [{"filter": "datum.p == 1"}], "mark": {"type": "square", "size": 7, "opacity": 1},
"encoding": {"x": {"field": "x", "type": "quantitative", "scale": {"domain": [0, 42.4], "nice": false, "zero": false}, "axis": {"values": [0,10,20,30,40], "title": null, "tickSize": -8, "labelPadding": 12, "labelFontSize": 9.5}},
"color": {"field": "s", "type": "nominal", "scale": {"domain": ["S","A"], "range": ["black", "#008000"]}, "legend": null}}},
{"data": {"name": "fit"}, "transform": [{"filter": "datum.p == 1"}], "mark": {"type": "line", "color": "#0000ff", "strokeWidth": 1.3},
"encoding": {"x": {"field": "x", "type": "quantitative", "scale": {"domain": [0, 42.4], "nice": false, "zero": false}, "axis": {"values": [0,10,20,30,40], "title": null, "tickSize": -8, "labelPadding": 12, "labelFontSize": 9.5}}, "detail": {"field": "g"}}}
]},
{"width": 176, "height": 401,
"encoding": {"y": {"field": "v", "type": "quantitative", "scale": {"domain": [-0.5, 4], "nice": false, "zero": false}, "axis": null}},
"layer": [
{"data": {"name": "refs"}, "mark": {"type": "rule", "color": "black", "strokeWidth": 1.6}},
{"data": {"name": "pts"}, "transform": [{"filter": "datum.p == 2"}], "mark": {"type": "square", "size": 7, "opacity": 1},
"encoding": {"x": {"field": "x", "type": "quantitative", "scale": {"domain": [0, 41.9], "reverse": true, "nice": false, "zero": false}, "axis": {"values": [0,10,20,30,40], "title": "Distance from Upstream End of Screen, ft", "titleFontSize": 15.6, "titleX": 185, "titleY": 36, "titleBaseline": "alphabetic", "tickSize": -8, "labelPadding": 12, "labelFontSize": 9.5}},
"color": {"field": "s", "type": "nominal", "scale": {"domain": ["S","A"], "range": ["black", "#008000"]}, "legend": null}}},
{"data": {"name": "fit"}, "transform": [{"filter": "datum.p == 2"}], "mark": {"type": "line", "color": "#0000ff", "strokeWidth": 1.3},
"encoding": {"x": {"field": "x", "type": "quantitative", "scale": {"domain": [0, 41.9], "reverse": true, "nice": false, "zero": false}, "axis": {"values": [0,10,20,30,40], "title": "Distance from Upstream End of Screen, ft", "titleFontSize": 15.6, "titleX": 185, "titleY": 36, "titleBaseline": "alphabetic", "tickSize": -8, "labelPadding": 12, "labelFontSize": 9.5}}, "detail": {"field": "g"}}}
]},
{"width": 17, "height": 401, "view": {"stroke": null}, "data": {"values": []}, "mark": {"type": "point", "opacity": 0}},
{"width": 176, "height": 401,
"encoding": {"y": {"field": "v", "type": "quantitative", "scale": {"domain": [-0.5, 4], "nice": false, "zero": false}, "axis": null}},
"layer": [
{"data": {"name": "refs"}, "mark": {"type": "rule", "color": "black", "strokeWidth": 1.6}},
{"data": {"name": "pts"}, "transform": [{"filter": "datum.p == 3"}], "mark": {"type": "square", "size": 7, "opacity": 1},
"encoding": {"x": {"field": "x", "type": "quantitative", "scale": {"domain": [0, 41.9], "nice": false, "zero": false}, "axis": {"values": [0,10,20,30,40], "title": null, "tickSize": -8, "labelPadding": 12, "labelFontSize": 9.5}},
"color": {"field": "s", "type": "nominal", "scale": {"domain": ["S","A"], "range": ["black", "#008000"]}, "legend": null}}},
{"data": {"name": "fit"}, "transform": [{"filter": "datum.p == 3"}], "mark": {"type": "line", "color": "#0000ff", "strokeWidth": 1.3},
"encoding": {"x": {"field": "x", "type": "quantitative", "scale": {"domain": [0, 41.9], "nice": false, "zero": false}, "axis": {"values": [0,10,20,30,40], "title": null, "tickSize": -8, "labelPadding": 12, "labelFontSize": 9.5}}, "detail": {"field": "g"}}}
]},
{"width": 178, "height": 401,
"encoding": {"y": {"field": "v", "type": "quantitative", "scale": {"domain": [-0.5, 4], "nice": false, "zero": false},
"axis": {"orient": "right", "values": [0,1,2,3,4], "title": null, "tickSize": -8, "labelPadding": 12, "labelFontSize": 9.5}}},
"layer": [
{"data": {"name": "refs"}, "mark": {"type": "rule", "color": "black", "strokeWidth": 1.6}},
{"data": {"name": "pts"}, "transform": [{"filter": "datum.p == 4"}], "mark": {"type": "square", "size": 7, "opacity": 1},
"encoding": {"x": {"field": "x", "type": "quantitative", "scale": {"domain": [0, 42.4], "reverse": true, "nice": false, "zero": false}, "axis": {"values": [0,10,20,30,40], "title": null, "tickSize": -8, "labelPadding": 12, "labelFontSize": 9.5}},
"color": {"field": "s", "type": "nominal", "scale": {"domain": ["S","A"], "range": ["black", "#008000"]}, "legend": null}}},
{"data": {"name": "fit"}, "transform": [{"filter": "datum.p == 4"}], "mark": {"type": "line", "color": "#0000ff", "strokeWidth": 1.3},
"encoding": {"x": {"field": "x", "type": "quantitative", "scale": {"domain": [0, 42.4], "reverse": true, "nice": false, "zero": false}, "axis": {"values": [0,10,20,30,40], "title": null, "tickSize": -8, "labelPadding": 12, "labelFontSize": 9.5}}, "detail": {"field": "g"}}},
{"data": {"name": "ann"}, "mark": {"type": "text", "fontSize": 8.7, "color": "#222", "font": "Liberation Sans"},
"encoding": {"x": {"field": "x", "type": "quantitative", "scale": {"domain": [0, 42.4], "reverse": true, "nice": false, "zero": false}, "axis": {"values": [0,10,20,30,40], "title": null, "tickSize": -8, "labelPadding": 12, "labelFontSize": 9.5}}, "text": {"field": "t"}}}
]}
]
}
